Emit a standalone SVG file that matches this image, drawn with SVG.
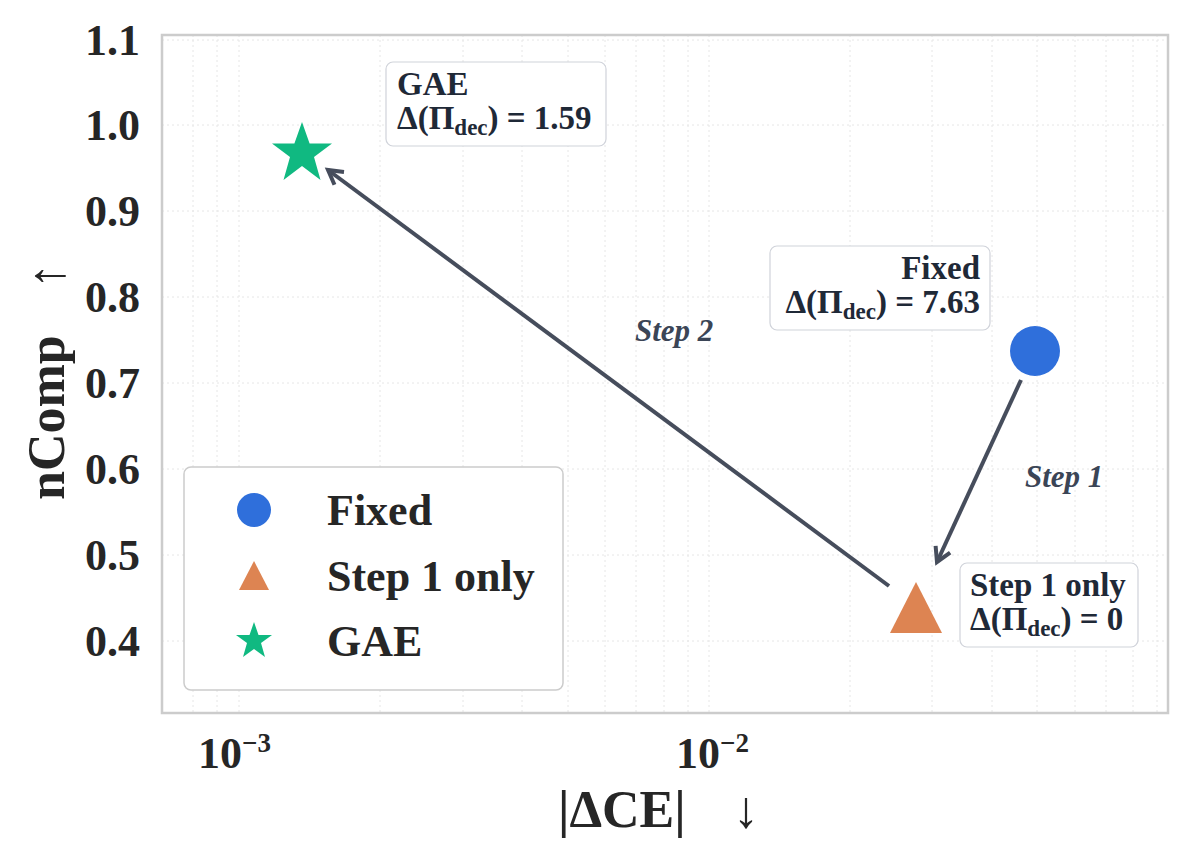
<svg xmlns="http://www.w3.org/2000/svg" width="1191" height="861" viewBox="0 0 1191 861">
<defs>
<style>
text{font-family:"Liberation Serif","DejaVu Serif",serif;font-weight:bold;fill:#262626}
.tick{font-size:44px}
.ann{font-size:33px;fill:#1f2937}
.step{font-size:31px;font-style:italic;fill:#3b4556}
.leg{font-size:44px}
.axl{font-size:52px}
.grid{stroke:#e6e6e6;stroke-width:1;stroke-dasharray:2 3}
.box{fill:#fff;stroke:#d0d3da;stroke-width:1.2}
.conn{stroke:#464d5c;stroke-width:4;fill:none}
</style>
<marker id="ah" viewBox="-12 -10 24 20" refX="2" refY="0" markerWidth="24" markerHeight="20" markerUnits="userSpaceOnUse" orient="auto" overflow="visible">
<path d="M-12,-8 L2,0 L-12,8" fill="none" stroke="#464d5c" stroke-width="4" stroke-linejoin="miter"/>
</marker>
</defs>
<rect width="1191" height="861" fill="#fff"/>
<g id="grid">
<path class="grid" d="M162,40H1168M162,125H1168M162,211H1168M162,297H1168M162,383H1168M162,469H1168M162,555H1168M162,641H1168"/>
<path class="grid" d="M193,35V713M217,35V713M239,35V713M380,35V713M463,35V713M522,35V713M568,35V713M605,35V713M636,35V713M664,35V713M688,35V713M709,35V713M850,35V713M932,35V713M992,35V713M1037,35V713M1075,35V713M1106,35V713M1133,35V713M1157,35V713"/>
</g>
<rect x="162" y="35" width="1006" height="678" fill="none" stroke="#cccccc" stroke-width="2.5"/>
<g id="yticks" text-anchor="end">
<text class="tick" x="140" y="55">1.1</text>
<text class="tick" x="140" y="140">1.0</text>
<text class="tick" x="140" y="226">0.9</text>
<text class="tick" x="140" y="312">0.8</text>
<text class="tick" x="140" y="398">0.7</text>
<text class="tick" x="140" y="484">0.6</text>
<text class="tick" x="140" y="570">0.5</text>
<text class="tick" x="140" y="656">0.4</text>
</g>
<g id="xticks">
<text class="tick" x="198" y="768" font-size="38">10<tspan font-size="27" dy="-16">−3</tspan></text>
<text class="tick" x="676" y="768" font-size="38">10<tspan font-size="27" dy="-16">−2</tspan></text>
</g>
<text class="axl" x="558" y="827">|ΔCE|</text>
<text class="axl" x="746" y="827" text-anchor="middle">↓</text>
<text class="axl" transform="translate(64,500) rotate(-90)">nComp</text>
<text class="axl" transform="translate(64,276) rotate(-90)" text-anchor="middle">↑</text>
<g id="connectors">
<line class="conn" x1="1021" y1="380" x2="937" y2="562" marker-end="url(#ah)"/>
<line class="conn" x1="889" y1="586" x2="328" y2="170" marker-end="url(#ah)"/>
<text class="step" x="1025" y="487">Step 1</text>
<text class="step" x="635" y="341">Step 2</text>
</g>
<g id="fixed">
<circle cx="1035" cy="351" r="25" fill="#2f6fdb"/>
<rect class="box" x="770" y="246" width="220" height="84" rx="7"/>
<text class="ann" x="980" y="279" text-anchor="end">Fixed</text>
<text class="ann" x="980" y="313" text-anchor="end">Δ(Π<tspan font-size="23" dy="6">dec</tspan><tspan dy="-6">) = 7.63</tspan></text>
</g>
<g id="step1only">
<polygon points="916,582 942,633 890,633" fill="#dd8452"/>
<rect class="box" x="960" y="563" width="178" height="84" rx="7"/>
<text class="ann" x="970" y="596">Step 1 only</text>
<text class="ann" x="970" y="630">Δ(Π<tspan font-size="23" dy="6">dec</tspan><tspan dy="-6">) = 0</tspan></text>
</g>
<g id="gae">
<polygon points="302,122 309.6,143.5 332,143.5 314,157 320.5,180 302,166 283.5,180 290,157 272,143.5 294.4,143.5" fill="#10b981"/>
<rect class="box" x="386" y="62" width="220" height="84" rx="7"/>
<text class="ann" x="397" y="95">GAE</text>
<text class="ann" x="397" y="129">Δ(Π<tspan font-size="23" dy="6">dec</tspan><tspan dy="-6">) = 1.59</tspan></text>
</g>
<g id="legend">
<rect x="184" y="467" width="379" height="223" rx="7" fill="#fff" stroke="#cccccc" stroke-width="1.5"/>
<circle cx="254" cy="510" r="17" fill="#2f6fdb"/>
<polygon points="254,561 269,590 239,590" fill="#dd8452"/>
<polygon points="254,622 258.5,635 272,635 261,643 265,657 254,649 243,657 247,643 236,635 249.5,635" fill="#10b981"/>
<text class="leg" x="327" y="525">Fixed</text>
<text class="leg" x="327" y="591">Step 1 only</text>
<text class="leg" x="327" y="656">GAE</text>
</g>
</svg>
